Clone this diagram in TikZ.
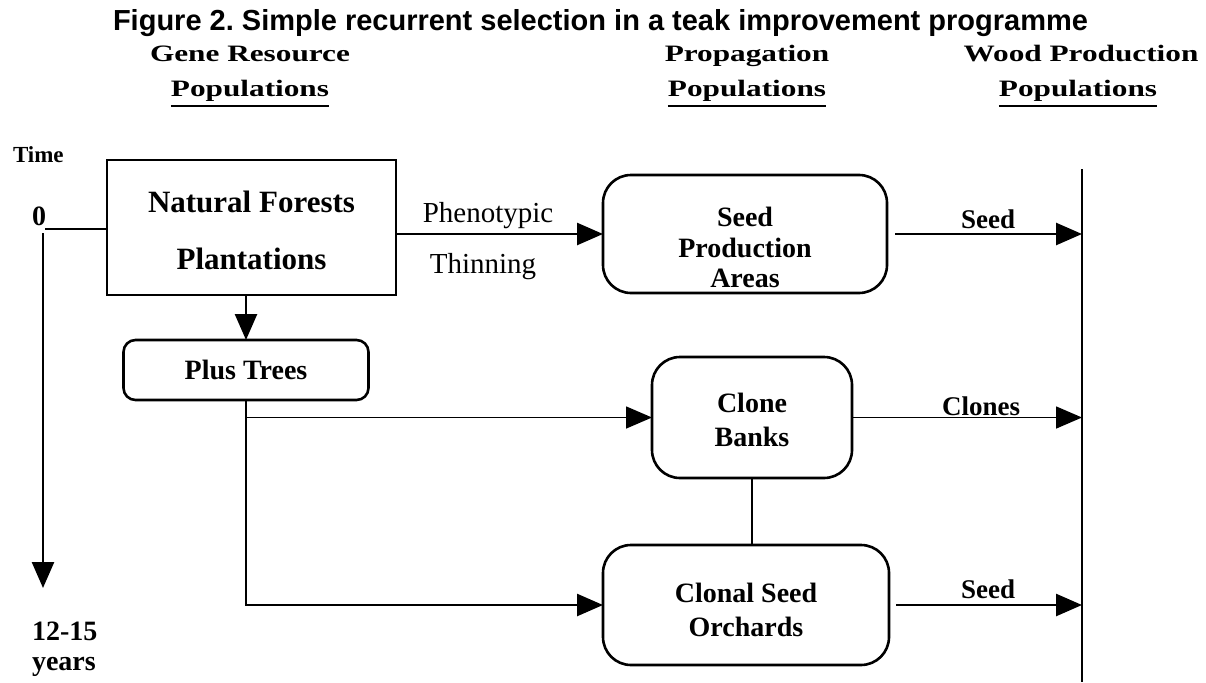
\documentclass[tikz,border=0pt]{standalone}
\usepackage{fontspec}
\setmainfont{Liberation Serif}
\newfontfamily\titlefont{Liberation Sans}
\newfontfamily\hdrfont[FakeStretch=1.33]{Liberation Serif}
\usetikzlibrary{arrows.meta}
\frenchspacing
\begin{document}
\begin{tikzpicture}[x=1pt,y=-1pt,
  every node/.style={inner sep=0pt, outer sep=0pt},
  tip/.style={-{Triangle[length=26pt,width=22pt]}},
  thickln/.style={line width=2.6pt},
  thinln/.style={line width=1.6pt},
  sqbox/.style={draw, line width=2pt, align=center, font=\bfseries\fontsize{31}{57}\selectfont},
  rbox/.style={draw, line width=2.6pt, rounded corners=28pt, align=center, font=\bfseries\fontsize{28}{34}\selectfont},
  hdr/.style={font=\hdrfont\bfseries\fontsize{23.5}{30}\selectfont, anchor=base},
  lbl/.style={font=\bfseries\fontsize{27}{30}\selectfont, anchor=base},
  plainlbl/.style={font=\fontsize{29}{32}\selectfont, anchor=base},
  sidelbl/.style={font=\bfseries\fontsize{28}{30}\selectfont, anchor=base west},
  uline/.style={line width=2pt},
]
\useasboundingbox (0,0) rectangle (1206,682);

% title
\node[font=\titlefont\bfseries\fontsize{29}{32}\selectfont, anchor=base west] (title) at (113,31) {Figure 2. Simple recurrent selection in a teak improvement programme};

% column headers
\node[hdr] (h1a) at (250,62) {Gene Resource};
\node[hdr] (h1b) at (250,97) {Populations};
\node[hdr] (h2a) at (747,62) {Propagation};
\node[hdr] (h2b) at (747,97) {Populations};
\node[hdr] (h3a) at (1081,62) {Wood Production};
\node[hdr] (h3b) at (1078,97) {Populations};
\foreach \n in {h1b,h2b,h3b}
  \draw[uline] ([yshift=-9pt]\n.base west) -- ([yshift=-9pt]\n.base east);

% time axis labels
\node[font=\bfseries\fontsize{23}{26}\selectfont, anchor=base west] (time) at (13,162) {Time};
\node[font=\bfseries\fontsize{28}{30}\selectfont, anchor=base] (zero) at (39,225) {0};
\node[sidelbl] (yr1) at (32,640) {12-15};
\node[sidelbl] (yr2) at (32,670) {years};

% boxes
\node[sqbox, minimum width=289pt, minimum height=135pt] (nat) at (251.5,227.5) {\rule{0pt}{28pt}Natural Forests\\Plantations};
\node[rbox, rounded corners=12pt, minimum width=245pt, minimum height=60pt] (plus) at (246,370) {Plus Trees};
\node[rbox, font=\bfseries\fontsize{28}{30.5}\selectfont, minimum width=284pt, minimum height=118pt] (spa) at (745,234) {\rule{0pt}{47pt}Seed\\Production\\Areas};
\node[rbox, minimum width=200pt, minimum height=121pt] (cb) at (752,417.5) {\rule{0pt}{25pt}Clone\\Banks};
\node[rbox, minimum width=286pt, minimum height=120pt] (cso) at (746,605) {\rule{0pt}{30pt}Clonal Seed\\Orchards};

% wood production line
\coordinate (wtop) at (1082,169);
\coordinate (wbot) at (1082,682);
\draw[thinln] (wtop) -- (wbot);

% time axis
\coordinate (tz) at (45,229);
\coordinate (ttop) at (43,233);
\coordinate (tbot) at (43,588);
\draw[thickln] (tz) -- (tz -| nat.west);
\draw[thickln, tip] (ttop) -- (tbot);

% connectors
\draw[thickln, tip] (nat.east |- spa.west) -- (spa.west);
\node[plainlbl] (phen) at (488,222) {Phenotypic};
\node[plainlbl] (thin) at (483,273) {Thinning};

\draw[thickln, tip] ([xshift=8pt]spa.east) -- (spa.east -| wtop);
\node[lbl] (s1) at (988,228) {Seed};

\draw[thickln, tip] (nat.south -| plus.north) -- (plus.north);
\draw[thinln, tip] (plus.south |- cb.west) -- (cb.west);
\draw[thickln, tip] (plus.south) -- (plus.south |- cso.west) -- (cso.west);

\draw[thinln, tip] (cb.east) -- (cb.east -| wtop);
\node[lbl] (cl) at (981,415) {Clones};

\draw[thickln] (cb.south) -- (cb.south |- cso.north);

\draw[thickln, tip] ([xshift=7pt]cso.east) -- (cso.east -| wtop);
\node[lbl] (s2) at (988,598) {Seed};
\end{tikzpicture}
\end{document}
